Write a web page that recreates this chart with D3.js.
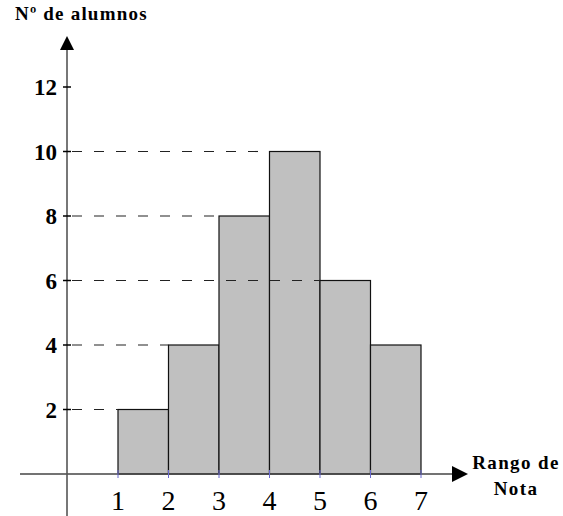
<!DOCTYPE html>
<html>
<head>
<meta charset="utf-8">
<script src="https://cdn.jsdelivr.net/npm/d3@7"></script>
<style>
  html, body { margin: 0; padding: 0; background: #fff; }
  svg { display: block; }
</style>
</head>
<body>
<svg id="chart" width="563" height="516"></svg>
<script>
// Data
const binStarts = [1, 2, 3, 4, 5, 6];
const binEnds = [2, 3, 4, 5, 6, 7];
const counts = [2, 4, 8, 10, 6, 4];
const xTickLabels = ["1", "2", "3", "4", "5", "6", "7"];
const xTickValues = [1, 2, 3, 4, 5, 6, 7];
const yTickValues = [2, 4, 6, 8, 10, 12];
const yTitle = "Nº de alumnos";
const xTitleLines = ["Rango de", "Nota"];

const svg = d3.select("#chart");
const serif = "'Liberation Serif', 'Times New Roman', serif";
const x = d3.scaleLinear().domain([1, 7]).range([118, 421]);
const y = d3.scaleLinear().domain([0, 12]).range([474, 87]);
const axisX = 67; // y-axis position in px

// Dashed guide lines: from the axis to the first bar reaching each level
const guides = yTickValues.filter(v => counts.includes(v)).map(v => {
  const i = counts.indexOf(v);
  return { v, end: x(binStarts[i]) };
});

// Bars
svg.append("g").selectAll("rect")
  .data(counts)
  .join("rect")
  .attr("x", (d, i) => x(binStarts[i]))
  .attr("y", d => y(d))
  .attr("width", (d, i) => x(binEnds[i]) - x(binStarts[i]))
  .attr("height", d => y(0) - y(d))
  .attr("fill", "#c0c0c0")
  .attr("stroke", "#111")
  .attr("stroke-width", 1.2);

// Dashed lines (drawn over bars)
svg.append("g").selectAll("line")
  .data(guides)
  .join("line")
  .attr("x1", axisX + 5)
  .attr("x2", d => d.end)
  .attr("y1", d => y(d.v))
  .attr("y2", d => y(d.v))
  .attr("stroke", "#222")
  .attr("stroke-width", 1.1)
  .attr("stroke-dasharray", "10,12");

// X axis line + arrow
svg.append("line")
  .attr("x1", 20).attr("x2", 455)
  .attr("y1", y(0)).attr("y2", y(0))
  .attr("stroke", "#444").attr("stroke-width", 1.5);
svg.append("path")
  .attr("d", `M452,${y(0) - 8} L468,${y(0)} L452,${y(0) + 8} Z`)
  .attr("fill", "#000");

// Y axis line + arrow
svg.append("line")
  .attr("x1", axisX).attr("x2", axisX)
  .attr("y1", 46).attr("y2", 516)
  .attr("stroke", "#555").attr("stroke-width", 1.6);
svg.append("path")
  .attr("d", `M${axisX - 7},50 L${axisX},36 L${axisX + 7},50 Z`)
  .attr("fill", "#000");

// Y ticks and labels
const yt = svg.append("g").selectAll("g")
  .data(yTickValues)
  .join("g")
  .attr("transform", d => `translate(0,${y(d)})`);
yt.append("line")
  .attr("x1", axisX - 4).attr("x2", axisX + 4)
  .attr("stroke", "#000").attr("stroke-width", 1.5);
yt.append("text")
  .attr("x", axisX - 10)
  .attr("dy", "0.35em")
  .attr("text-anchor", "end")
  .attr("font-family", serif)
  .attr("font-weight", "bold")
  .attr("font-size", 23)
  .text(d => d);

// X ticks and labels
const xt = svg.append("g").selectAll("g")
  .data(xTickValues)
  .join("g")
  .attr("transform", d => `translate(${x(d)},0)`);
xt.append("line")
  .attr("y1", y(0) - 4).attr("y2", y(0) + 4)
  .attr("stroke", "#6a6ad0").attr("stroke-width", 1);
xt.append("text")
  .attr("y", 510)
  .attr("text-anchor", "middle")
  .attr("font-family", serif)
  .attr("font-size", 28)
  .text((d, i) => xTickLabels[i]);

// Titles
svg.append("text")
  .attr("x", 15).attr("y", 20)
  .attr("font-family", serif)
  .attr("font-weight", "bold")
  .attr("font-size", 19)
  .attr("letter-spacing", 1.2)
  .text(yTitle);

svg.append("g").selectAll("text")
  .data(xTitleLines)
  .join("text")
  .attr("x", 516)
  .attr("y", (d, i) => 469 + i * 26)
  .attr("text-anchor", "middle")
  .attr("font-family", serif)
  .attr("font-weight", "bold")
  .attr("font-size", 19)
  .attr("letter-spacing", 1.4)
  .text(d => d);
</script>
</body>
</html>
